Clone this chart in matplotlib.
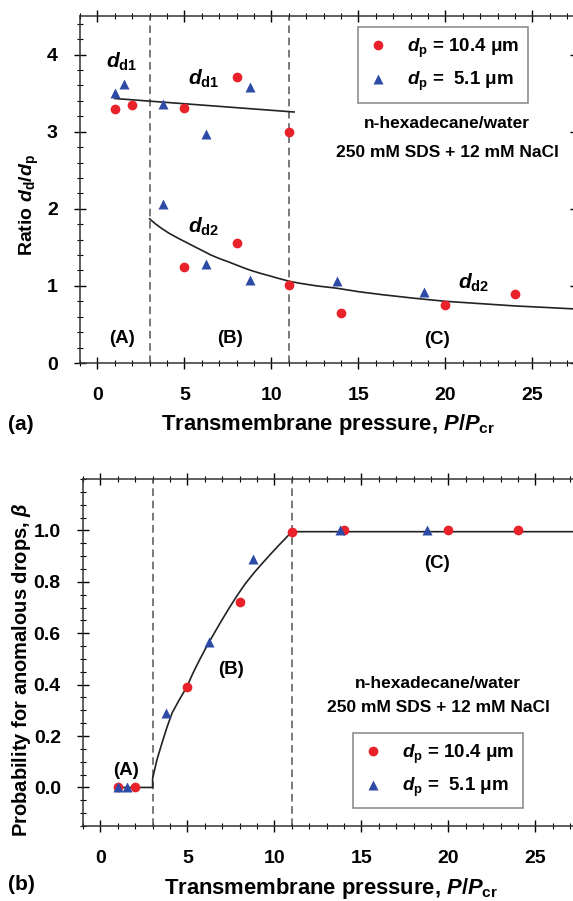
import matplotlib
matplotlib.use("Agg")
import matplotlib.pyplot as plt
from matplotlib.ticker import MultipleLocator

plt.rcParams['font.family'] = ['Liberation Sans', 'DejaVu Sans']
plt.rcParams['font.weight'] = 'bold'
plt.rcParams['axes.labelweight'] = 'bold'
plt.rcParams['mathtext.fontset'] = 'custom'
plt.rcParams['mathtext.rm'] = 'Liberation Sans:bold'
plt.rcParams['mathtext.it'] = 'Liberation Sans:italic:bold'
plt.rcParams['mathtext.bf'] = 'Liberation Sans:bold'

RED = '#e8212b'
BLUE = '#2d4aa6'

# panel (a): ratio dd/dp
red_d1_x = [1, 2, 5, 8, 11]
red_d1_y = [3.29, 3.34, 3.31, 3.71, 3.00]
red_d2_x = [5, 8, 11, 14, 20, 24]
red_d2_y = [1.25, 1.55, 1.01, 0.645, 0.75, 0.90]
blue_d1_x = [1, 1.5, 3.75, 6.25, 8.75]
blue_d1_y = [3.50, 3.62, 3.36, 2.97, 3.58]
blue_d2_x = [3.75, 6.25, 8.75, 13.75, 18.75]
blue_d2_y = [2.06, 1.29, 1.08, 1.06, 0.92]

fit_d1_x = [1, 11.3]
fit_d1_y = [3.43, 3.255]
fit_d2_x = [3, 3.3, 3.66, 4.1, 4.62, 5.1, 5.57, 6.05, 6.53, 7.0, 7.49, 8.0, 8.45, 8.9, 9.41,
            9.9, 10.36, 11.03, 11.6, 12.6, 13.75, 15.0, 16.4, 18.2, 20, 22, 24, 25.8, 27.5]
fit_d2_y = [1.87, 1.81, 1.75, 1.685, 1.62, 1.565, 1.51, 1.455, 1.40, 1.355, 1.315, 1.27, 1.23,
            1.195, 1.16, 1.13, 1.10, 1.06, 1.035, 1.0, 0.97, 0.925, 0.885, 0.84, 0.80, 0.77,
            0.74, 0.72, 0.70]

# panel (b): probability beta
beta_red_x = [1, 2, 5, 8, 11, 14, 20, 24]
beta_red_y = [0, 0, 0.39, 0.72, 0.995, 1.0, 1.0, 1.0]
beta_blue_x = [1, 1.5, 3.75, 6.25, 8.75, 13.75, 18.75]
beta_blue_y = [0, 0, 0.29, 0.565, 0.89, 1.0, 1.0]

fit_b_x = [1, 3, 3, 3.25, 3.54, 3.82, 4.12, 4.55, 4.98, 5.3, 5.65, 6.02, 6.42, 6.9, 7.38,
           7.85, 8.33, 8.8, 9.29, 9.77, 10.25, 10.62, 11, 27.5]
fit_b_y = [0, 0, 0.035, 0.108, 0.173, 0.233, 0.29, 0.343, 0.393, 0.442, 0.49, 0.538, 0.586,
           0.642, 0.696, 0.746, 0.793, 0.833, 0.871, 0.907, 0.942, 0.968, 0.995, 0.995]

boundaries = [3, 11]
xticks = [0, 5, 10, 15, 20, 25]
legend_labels = [r'$d_{\rm p}$ = 10.4 μm', r'$d_{\rm p}$ =  5.1 μm']

fig = plt.figure(figsize=(5.73, 9.01), dpi=100)
ax1 = fig.add_axes([80/573, (901-363)/901, 496/573, 347/901])
ax2 = fig.add_axes([83/573, (901-826)/901, 496/573, 347/901])


def style(ax):
    ax.set_xlim(-1, 27.5)
    ax.set_xticks(xticks)
    ax.xaxis.set_minor_locator(MultipleLocator(1))
    ax.tick_params(which='major', direction='inout', length=9, width=1,
                   top=True, right=True, labelsize=14)
    ax.tick_params(axis='x', which='major', pad=12.5)
    ax.tick_params(axis='y', which='major', pad=11.5)
    ax.tick_params(which='minor', direction='inout', length=5, width=0.8,
                   top=True, right=True)
    for s in ax.spines.values():
        s.set_linewidth(1.1)
        s.set_color('#333333')
    for b in boundaries:
        ax.axvline(b, color='#555555', lw=1.1, ls=(0, (5, 3)))


def add_legend(ax, anchor):
    leg = ax.legend(loc='upper left', bbox_to_anchor=anchor, frameon=True,
                    fancybox=False, edgecolor='#666666', fontsize=13.5,
                    handletextpad=0.9, borderpad=0.5, labelspacing=0.55,
                    handlelength=1.2, borderaxespad=0)
    leg.get_frame().set_linewidth(1.1)


mk = dict(ls='none', ms=7, mec='none')

# ---- (a)
style(ax1)
ax1.set_ylim(0, 4.5)
ax1.set_yticks([0, 1, 2, 3, 4])
ax1.yaxis.set_minor_locator(MultipleLocator(0.2))
ax1.plot(fit_d1_x, fit_d1_y, color='#222222', lw=1.2)
ax1.plot(fit_d2_x, fit_d2_y, color='#222222', lw=1.2)
ax1.plot(red_d1_x, red_d1_y, marker='o', color=RED, label=legend_labels[0], **mk)
ax1.plot(blue_d1_x, blue_d1_y, marker='^', color=BLUE, label=legend_labels[1], **mk)
ax1.plot(red_d2_x, red_d2_y, marker='o', color=RED, **mk)
ax1.plot(blue_d2_x, blue_d2_y, marker='^', color=BLUE, **mk)

ax1.text(1.4, 3.91, r'$d_{\rm d1}$', fontsize=15, ha='center', va='center')
ax1.text(6.1, 3.68, r'$d_{\rm d1}$', fontsize=15, ha='center', va='center')
ax1.text(6.1, 1.77, r'$d_{\rm d2}$', fontsize=15, ha='center', va='center')
ax1.text(21.6, 1.04, r'$d_{\rm d2}$', fontsize=15, ha='center', va='center')
ax1.text(1.4, 0.32, '(A)', fontsize=13.5, ha='center', va='center')
ax1.text(7.6, 0.32, '(B)', fontsize=13.5, ha='center', va='center')
ax1.text(19.5, 0.30, '(C)', fontsize=13.5, ha='center', va='center')
ax1.text(20.1, 3.10, 'n-hexadecane/water', fontsize=12.5, ha='center', va='center')
ax1.text(20.1, 2.73, '250 mM SDS + 12 mM NaCl', fontsize=12.5, ha='center', va='center')
add_legend(ax1, (0.56, 0.968))

ax1.set_ylabel(r'Ratio $d_{\rm d}$/$d_{\rm p}$', fontsize=14)
ax1.yaxis.set_label_coords(-0.078, 0.455)
ax1.set_xlabel(r'Transmembrane pressure, $P$/$P_{\rm cr}$', fontsize=15.8)
ax1.xaxis.set_label_coords(0.5, -0.142)
fig.text(21/573, 1 - 424/901, '(a)', fontsize=15, ha='center', va='center')

# ---- (b)
style(ax2)
ax2.set_ylim(-0.15, 1.2)
ax2.set_yticks([0, 0.2, 0.4, 0.6, 0.8, 1.0])
ax2.set_yticklabels(['0.0', '0.2', '0.4', '0.6', '0.8', '1.0'])
ax2.yaxis.set_minor_locator(MultipleLocator(0.05))
ax2.plot(fit_b_x, fit_b_y, color='#222222', lw=1.2)
ax2.plot(beta_red_x, beta_red_y, marker='o', color=RED, label=legend_labels[0], **mk)
ax2.plot(beta_blue_x, beta_blue_y, marker='^', color=BLUE, label=legend_labels[1], **mk)

ax2.text(1.45, 0.065, '(A)', fontsize=13.5, ha='center', va='center')
ax2.text(7.5, 0.457, '(B)', fontsize=13.5, ha='center', va='center')
ax2.text(19.35, 0.87, '(C)', fontsize=13.5, ha='center', va='center')
ax2.text(19.4, 0.405, 'n-hexadecane/water', fontsize=12.5, ha='center', va='center')
ax2.text(19.4, 0.31, '250 mM SDS + 12 mM NaCl', fontsize=12.5, ha='center', va='center')
add_legend(ax2, (0.544, 0.268))

ax2.set_ylabel(r'Probability for anomalous drops, $\beta$', fontsize=14.5)
ax2.yaxis.set_label_coords(-0.1, 0.45)
ax2.set_xlabel(r'Transmembrane pressure, $P$/$P_{\rm cr}$', fontsize=15.8)
ax2.xaxis.set_label_coords(0.5, -0.145)
fig.text(21/573, 1 - 884/901, '(b)', fontsize=15, ha='center', va='center')

fig.savefig('out.png', dpi=100)
